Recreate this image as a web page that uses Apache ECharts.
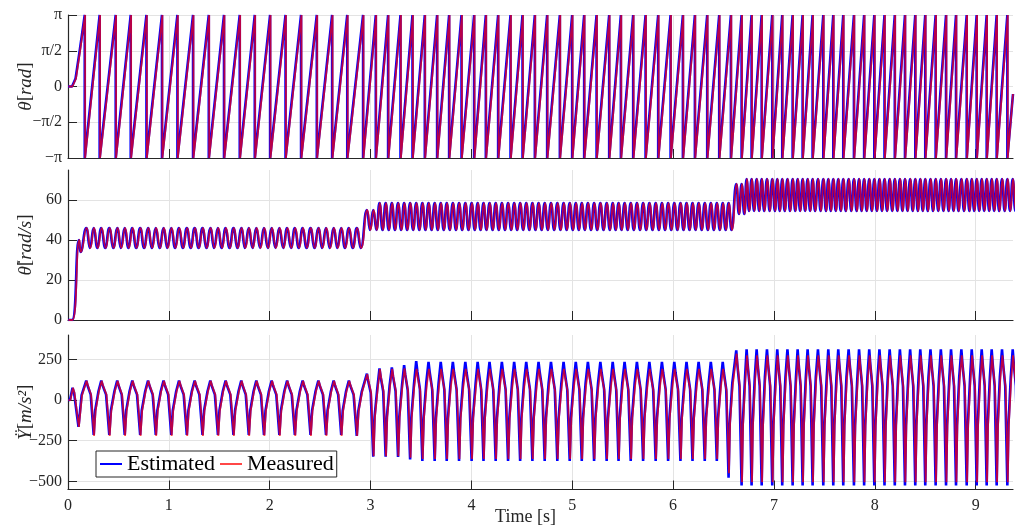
<!DOCTYPE html>
<html>
<head>
<meta charset="utf-8">
<script src="https://cdn.jsdelivr.net/npm/echarts@6/dist/echarts.min.js"></script>
<style>html,body{margin:0;background:#fff}#chart{width:1022px;height:527px}</style>
</head>
<body>
<div id="chart"></div>
<script>
'use strict'
var PI = Math.PI;
var tEnd = 9.37;

// times [s] at which theta wraps from pi to -pi
var wrapEst = [0.166, 0.314, 0.473, 0.622, 0.778, 0.932, 1.085, 1.240, 1.396, 1.547, 1.703, 1.852, 2.004, 2.157, 2.311, 2.467, 2.619, 2.769,
  2.926, 3.052, 3.174, 3.297, 3.416, 3.538, 3.660, 3.779, 3.902, 4.027, 4.143, 4.265, 4.388, 4.507, 4.629, 4.751, 4.877, 4.999,
  5.118, 5.241, 5.366, 5.482, 5.604, 5.727, 5.852, 5.975, 6.097, 6.216, 6.338, 6.457,
  6.573, 6.679, 6.778, 6.878, 6.983, 7.082, 7.185, 7.284, 7.383, 7.489, 7.588, 7.687, 7.793, 7.894, 7.995, 8.096, 8.198, 8.299,
  8.401, 8.500, 8.603, 8.706, 8.805, 8.911, 9.010, 9.109, 9.208, 9.314];
var measLag = 0.004;

// speed steps: first revolution of each step, and where the peaks sit inside a revolution
var segStartRev = [0, 18, 48];
var accPhase = [0.1, 0.3, 0.5];

// start-up transients
var thetaStart = [[0, 0], [0.04, 0], [0.075, 0.35], [0.116, 1.571]];
var thetaEnd = -0.33;
var rateStart = [[0, 0], [0.04, 0], [0.109, 40], [0.125, 34]];
var accStart = [[0, 0], [0.02, 0], [0.045, 75], [0.06, 45], [0.104, -165], [0.135, 30]];

// theta-dot max / min per revolution [rad/s]
var rateMax = [46, 46, 46, 46, 46, 46, 46, 46, 46, 46, 46, 46, 46, 46, 46, 46, 46, 46,
  55, 58.5, 58.5, 58.5, 58.5, 58.5, 58.5, 58.5, 58.5, 58.5, 58.5, 58.5, 58.5, 58.5, 58.5, 58.5, 58.5, 58.5, 58.5, 58.5, 58.5, 58.5, 58.5, 58.5, 58.5, 58.5, 58.5, 58.5, 58.5, 58.5,
  68, 70.5, 70.5, 70.5, 70.5, 70.5, 70.5, 70.5, 70.5, 70.5, 70.5, 70.5, 70.5, 70.5, 70.5, 70.5, 70.5, 70.5, 70.5, 70.5, 70.5, 70.5, 70.5, 70.5, 70.5, 70.5, 70.5, 70.5];
var rateMin = [36, 36, 36, 36, 36, 36, 36, 36, 36, 36, 36, 36, 36, 36, 36, 36, 36, 36,
  45, 45, 45, 45, 45, 45, 45, 45, 45, 45, 45, 45, 45, 45, 45, 45, 45, 45, 45, 45, 45, 45, 45, 45, 45, 45, 45, 45, 45, 45,
  53, 54.5, 54.5, 54.5, 54.5, 54.5, 54.5, 54.5, 54.5, 54.5, 54.5, 54.5, 54.5, 54.5, 54.5, 54.5, 54.5, 54.5, 54.5, 54.5, 54.5, 54.5, 54.5, 54.5, 54.5, 54.5, 54.5, 54.5];

// Y acceleration peak / trough per revolution [m/s^2]
var accPeakEst = [120, 120, 120, 120, 120, 120, 120, 120, 120, 120, 120, 120, 120, 120, 120, 120, 120, 120,
  162, 195, 200, 215, 240, 235, 235, 235, 235, 235, 235, 235, 235, 235, 235, 235, 235, 235, 235, 235, 235, 235, 235, 235, 235, 235, 235, 235, 235, 235,
  305, 312, 312, 312, 312, 312, 312, 312, 312, 312, 312, 312, 312, 312, 312, 312, 312, 312, 312, 312, 312, 312, 312, 312, 312, 312, 312, 312];
var accTroughEst = [-215, -215, -215, -215, -215, -215, -215, -215, -215, -215, -215, -215, -215, -215, -215, -215, -215, -221,
  -348, -348, -350, -365, -375, -375, -375, -375, -375, -375, -375, -375, -375, -375, -375, -375, -375, -375, -375, -375, -375, -375, -375, -375, -375, -375, -375, -375, -375, -478,
  -525, -525, -525, -525, -525, -525, -525, -525, -525, -525, -525, -525, -525, -525, -525, -525, -525, -525, -525, -525, -525, -525, -525, -525, -525, -525, -525, -525];
var accPeakMeas = [118, 118, 118, 118, 118, 118, 118, 118, 118, 118, 118, 118, 118, 118, 118, 118, 118, 118,
  160, 190, 192, 195, 192, 192, 192, 192, 192, 192, 192, 192, 192, 192, 192, 192, 192, 192, 192, 192, 192, 192, 192, 192, 192, 192, 192, 192, 192, 192,
  285, 275, 275, 275, 275, 275, 275, 275, 275, 275, 275, 275, 275, 275, 275, 275, 275, 275, 275, 275, 275, 275, 275, 275, 275, 275, 275, 275];
var accTroughMeas = [-220, -220, -220, -220, -220, -220, -220, -220, -220, -220, -220, -220, -220, -220, -220, -220, -220, -220,
  -345, -345, -345, -355, -362, -362, -362, -362, -362, -362, -362, -362, -362, -362, -362, -362, -362, -362, -362, -362, -362, -362, -362, -362, -362, -362, -362, -362, -362, -450,
  -505, -505, -505, -505, -505, -505, -505, -505, -505, -505, -505, -505, -505, -505, -505, -505, -505, -505, -505, -505, -505, -505, -505, -505, -505, -505, -505, -505];

// shape of one acceleration cycle: [fraction of revolution after peak, fraction of peak (+) or trough (-)]
var accShape = [[0, 1], [0.1, 0.72], [0.3, 0.28], [0.5, -1], [0.6, -0.3], [0.82, 0.45]];

var timeTicks = [0, 1, 2, 3, 4, 5, 6, 7, 8, 9];
var thetaLabels = ['\u2212\u03c0', '\u2212\u03c0/2', '0', '\u03c0/2', '\u03c0'];
var rateTicks = [0, 20, 40, 60];
var accTicks = [-500, -250, 0, 250];

function segOf(k) { return k < segStartRev[1] ? 0 : (k < segStartRev[2] ? 1 : 2); }
function period(k) { return k + 1 < wrapEst.length ? wrapEst[k + 1] - wrapEst[k] : wrapEst[k] - wrapEst[k - 1]; }

function thetaData(lag) {
  var d = thetaStart.map(function (p) { return [p[0] + lag, p[1]]; });
  wrapEst.forEach(function (w) { d.push([w + lag, PI], [w + lag, -PI]); });
  d.push([tEnd, thetaEnd]);
  return d;
}
function rateData(lag) {
  var d = rateStart.map(function (p) { return [p[0] + lag, p[1]]; });
  wrapEst.forEach(function (w, k) {
    var P = period(k), t0 = w + accPhase[segOf(k)] * P + lag;
    d.push([t0, rateMax[k]], [t0 + 0.25 * P, rateMin[k]], [t0 + 0.5 * P, rateMax[k]], [t0 + 0.75 * P, rateMin[k]]);
  });
  return d;
}
function accData(peaks, troughs, lag) {
  var d = accStart.map(function (p) { return [p[0] + lag, p[1]]; });
  wrapEst.forEach(function (w, k) {
    var P = period(k), t0 = w + accPhase[segOf(k)] * P + lag;
    accShape.forEach(function (s) {
      d.push([t0 + s[0] * P, s[1] >= 0 ? s[1] * peaks[k] : -s[1] * troughs[k]]);
    });
  });
  return d;
}

var serif = 'Liberation Serif';
var ink = '#262626';
var gridLine = { show: true, lineStyle: { color: '#e3e3e3', width: 1 } };
var axisLine = { show: true, onZero: false, lineStyle: { color: ink, width: 1.2 } };

function xAxisFor(i, withLabels) {
  return {
    type: 'value', gridIndex: i, min: 0, max: tEnd, interval: 1,
    axisLine: axisLine,
    axisTick: { show: true, inside: true, length: 9, customValues: timeTicks, lineStyle: { color: ink } },
    axisLabel: { show: withLabels, customValues: timeTicks, margin: 8, color: ink, fontFamily: serif, fontSize: 16 },
    splitLine: gridLine,
    name: withLabels ? 'Time [s]' : '', nameLocation: 'middle', nameGap: 19, nameMoveOverlap: false,
    nameTextStyle: { color: ink, fontFamily: serif, fontSize: 18, padding: [0, 30, 0, 0] }
  };
}
function yName(rich) {
  return {
    nameLocation: 'middle', nameGap: 33, nameMoveOverlap: false,
    nameTextStyle: {
      color: ink, fontFamily: serif, fontSize: 19,
      rich: {
        i: { fontStyle: 'italic', fontFamily: serif, fontSize: 19, color: ink },
        n: { fontFamily: serif, fontSize: 19, color: ink }
      }
    },
    name: rich
  };
}
function yAxisFor(i, extra) {
  var base = {
    type: 'value', gridIndex: i,
    axisLine: axisLine,
    axisTick: { show: true, inside: true, length: 9, lineStyle: { color: ink } },
    axisLabel: { color: ink, fontFamily: serif, fontSize: 16, margin: 6 },
    splitLine: gridLine
  };
  return Object.assign(base, extra);
}

var estStyle = { color: '#0000ff', width: 2.6 };
var measStyle = { color: '#ff0000', width: 1.8, opacity: 0.72 };
function line(name, i, data, style) {
  return {
    name: name, type: 'line', xAxisIndex: i, yAxisIndex: i, data: data,
    showSymbol: false, symbol: 'none', lineStyle: style, itemStyle: { color: style.color },
    silent: true, animation: false
  };
}

var chart = echarts.init(document.getElementById('chart'), null, { renderer: 'canvas' });
chart.setOption({
  animation: false,
  backgroundColor: '#fff',
  grid: [
    { left: 68, right: 9, top: 15, height: 143, containLabel: false, outerBoundsMode: 'none' },
    { left: 68, right: 9, top: 170, height: 150, containLabel: false, outerBoundsMode: 'none' },
    { left: 68, right: 9, top: 335, height: 154.5, containLabel: false, outerBoundsMode: 'none' }
  ],
  xAxis: [xAxisFor(0, false), xAxisFor(1, false), xAxisFor(2, true)],
  yAxis: [
    yAxisFor(0, Object.assign({
      min: -PI, max: PI, interval: PI / 2,
      axisLabel: {
        color: ink, fontFamily: serif, fontSize: 16, margin: 6,
        formatter: function (v) { return thetaLabels[Math.round(v / (PI / 2)) + 2]; }
      }
    }, yName('{i|\u03b8}{n|[}{i|rad}{n|]}'))),
    yAxisFor(1, Object.assign({
      min: 0, max: 75, interval: 20,
      axisTick: { show: true, inside: true, length: 9, customValues: rateTicks, lineStyle: { color: ink } },
      axisLabel: { customValues: rateTicks, color: ink, fontFamily: serif, fontSize: 16, margin: 6 }
    }, yName('{i|\u03b8\u0307}{n|[}{i|rad/s}{n|]}'))),
    yAxisFor(2, Object.assign({
      min: -550, max: 400,
      axisTick: { show: true, inside: true, length: 9, customValues: accTicks, lineStyle: { color: ink } },
      axisLabel: {
        customValues: accTicks, color: ink, fontFamily: serif, fontSize: 16, margin: 6,
        formatter: function (v) { return v < 0 ? '\u2212' + (-v) : '' + v; }
      }
    }, yName('{i|\u0178}{n|[}{i|m/s\u00b2}{n|]}')))
  ],
  legend: {
    data: ['Estimated', 'Measured'],
    left: 96, top: 451,
    itemWidth: 22, itemHeight: 12, itemGap: 4,
    padding: [2, 3],
    borderColor: ink, borderWidth: 1, backgroundColor: '#fff',
    itemStyle: { color: 'transparent', borderColor: 'transparent', borderWidth: 0, opacity: 0 },
    textStyle: { color: '#000', fontFamily: serif, fontSize: 22 }
  },
  series: [
    line('Estimated', 0, thetaData(0), estStyle),
    line('Measured', 0, thetaData(measLag), measStyle),
    line('Estimated', 1, rateData(0), estStyle),
    line('Measured', 1, rateData(measLag), measStyle),
    line('Estimated', 2, accData(accPeakEst, accTroughEst, 0), estStyle),
    line('Measured', 2, accData(accPeakMeas, accTroughMeas, measLag), measStyle)
  ]
});
// theta-dot is smooth, acceleration keeps its sharp troughs
chart.setOption({ series: [{}, {}, { smooth: 0.5 }, { smooth: 0.5 }, {}, {}] });
</script>
</body>
</html>
